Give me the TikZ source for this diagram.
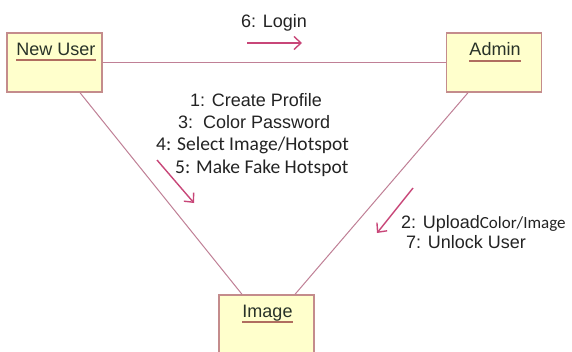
\documentclass[tikz,border=0pt]{standalone}
\usepackage{fontspec}
\setmainfont{Liberation Sans}
\newfontfamily\calfont{Carlito}
\usetikzlibrary{arrows.meta}
\definecolor{boxfill}{RGB}{255,255,204}
\definecolor{boxline}{RGB}{196,140,140}
\definecolor{assoc}{RGB}{192,128,150}
\definecolor{msgpink}{RGB}{200,70,120}
\definecolor{txt}{RGB}{35,35,35}
\definecolor{namecol}{RGB}{40,50,40}
\definecolor{uline}{RGB}{176,110,96}
\tikzset{
  objbox/.style={draw=boxline, line width=1.4pt, fill=boxfill, rectangle,
    inner sep=0pt, minimum width=95pt, minimum height=59pt},
  objname/.style={font=\fontsize{18}{20}\selectfont, text=namecol, inner sep=0pt, anchor=base},
  namebar/.style={draw=uline, line width=1.8pt},
  link/.style={draw=assoc, line width=1pt},
  msg/.style={draw=msgpink, line width=1.4pt, -{Straight Barb[length=7pt,width=13pt,line width=1.4pt]}},
  msgtext/.style={font=\fontsize{18}{20}\selectfont, text=txt, inner sep=0pt, anchor=base west},
  msgsmall/.style={font=\calfont\fontsize{19.5}{21}\selectfont, text=txt, inner sep=0pt, anchor=base west}
}
\begin{document}
\begin{tikzpicture}[x=1pt,y=-1pt]
\clip (0,0) rectangle (572,351);
\fill[white] (0,0) rectangle (572,351);

% objects
\node[objbox] (nu) at (54.5,62.5) {};
\node[objbox] (ad) at (494,62.5) {};
\node[objbox, minimum height=80pt] (img) at (266.5,335) {};

% associations
\draw[link] (nu) -- (ad);
\draw[link] ([xshift=25.5pt]nu.south) -- ([xshift=-24.5pt]img.north);
\draw[link] ([xshift=-26pt]ad.south) -- ([xshift=28.5pt]img.north);

% object names
\node[objname] (nuname) at (56,55) {New User};
\draw[namebar] ([yshift=-5pt]nuname.base west) -- ([yshift=-5pt]nuname.base east);
\node[objname] (adname) at (495,55) {Admin};
\draw[namebar] ([yshift=-6pt]adname.base west) -- ([yshift=-6pt]adname.base east);
\node[objname] (imgname) at (267.5,317) {Image};
\draw[namebar] ([yshift=-5pt]imgname.base west) -- ([yshift=-5pt]imgname.base east);

% message: login
\node[msgtext] (m6) at (241,27) {6: Login};
\coordinate (l0) at (247,43);
\coordinate (l1) at (302,43);
\draw[msg] (l0) -- (l1);

% messages New User -> Image
\node[msgtext] (m1) at (190,106) {1: Create Profile};
\node[msgtext] (m3) at (178,128) {3:\ \ Color Password};
\node[msgsmall] (m4) at (156,150) {4: Select Image/Hotspot};
\node[msgsmall] (m5) at (175,173) {5: Make Fake Hotspot};
\coordinate (a0) at (157,160);
\coordinate (a1) at (194,203);
\draw[msg] (a0) -- (a1);

% messages Admin -> Image
\coordinate (b0) at (413,188);
\coordinate (b1) at (377,233);
\draw[msg] (b0) -- (b1);
\node[msgtext] (m2) at (401,228) {2: Upload{\calfont\fontsize{17}{19}\selectfont Color/Image}};
\node[msgtext] (m7) at (406,248) {7: Unlock User};
\end{tikzpicture}
\end{document}
